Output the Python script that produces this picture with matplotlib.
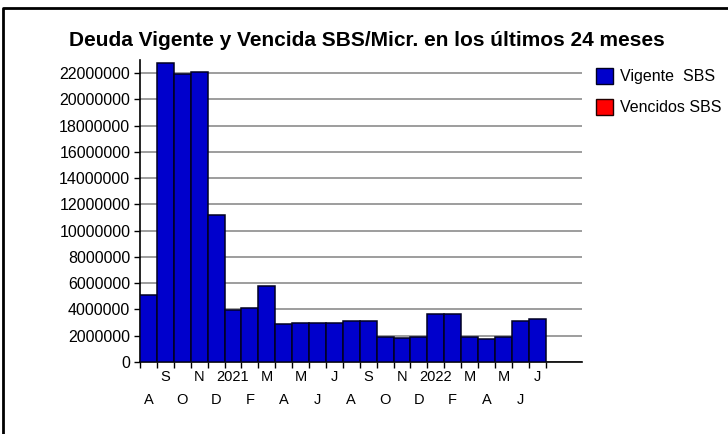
import matplotlib
matplotlib.use('Agg')
import matplotlib.pyplot as plt
from matplotlib.patches import Rectangle
from matplotlib.lines import Line2D
import numpy as np

# Aug 2020 .. Jul 2022
months = ["A", "S", "O", "N", "D", "2021", "F", "M", "A", "M", "J", "J",
          "A", "S", "O", "N", "D", "2022", "F", "M", "A", "M", "J", "J"]
vigente = [5100000, 22750000, 21930000, 22080000, 11190000, 3960000,
           4110000, 5790000, 2890000, 2990000, 3000000, 3000000,
           3140000, 3140000, 1880000, 1850000, 1880000, 3630000,
           3630000, 1880000, 1730000, 1880000, 3140000, 3270000]
vencidos = [0] * 24
yticks = list(range(0, 22000001, 2000000))

plt.rcParams['font.family'] = ['Liberation Sans', 'DejaVu Sans']

fig = plt.figure(figsize=(7.28, 4.34), dpi=100)
ax = fig.add_axes([140/728, 1-362/434, 442/728, 302/434])

x = np.arange(len(vigente))
ax.bar(x, vigente, width=1.0, color='#0000CC', edgecolor='#000022',
       linewidth=1.1, zorder=3)
ax.bar(x, vencidos, bottom=vigente, width=1.0, color='#FF0000',
       linewidth=0, zorder=3)

ax.set_xlim(-0.5, 25.65)
ax.set_ylim(0, 23000000)
ax.set_yticks(yticks)
ax.set_yticklabels([str(v) for v in yticks], fontsize=11.5)
ax.yaxis.grid(True, color='#8c8c8c', linewidth=1.2, zorder=0)
ax.tick_params(axis='y', length=4, width=1, pad=3)

# month labels in two staggered rows
ax.set_xticks(x[1::2])
ax.set_xticklabels(months[1::2], fontsize=10.5)
ax.tick_params(axis='x', length=0, pad=6)
ax.set_xticks(np.arange(-0.5, 24, 1), minor=True)
ax.tick_params(axis='x', which='minor', length=4, width=1)

sec = ax.secondary_xaxis('bottom')
sec.set_xticks(x[0::2])
sec.set_xticklabels(months[0::2], fontsize=10.5)
sec.tick_params(axis='x', length=0, pad=22)
sec.spines['bottom'].set_visible(False)

for s in ['top', 'right']:
    ax.spines[s].set_visible(False)
ax.spines['left'].set_linewidth(1.2)
ax.spines['bottom'].set_linewidth(1.2)

fig.text(367/728, 1-40/434, "Deuda Vigente y Vencida SBS/Micr. en los últimos 24 meses",
         ha='center', va='center', fontsize=15, fontweight='bold')

# legend
fig.patches.append(Rectangle((596/728, 1-84/434), 17/728, 16/434, transform=fig.transFigure,
                             facecolor='#0000CC', edgecolor='#000022', linewidth=1))
fig.patches.append(Rectangle((596/728, 1-115/434), 17/728, 16/434, transform=fig.transFigure,
                             facecolor='#FF0000', edgecolor='#220000', linewidth=1))
fig.text(620/728, 1-76/434, "Vigente  SBS", ha='left', va='center', fontsize=11.5)
fig.text(620/728, 1-107/434, "Vencidos SBS", ha='left', va='center', fontsize=11.5)

# outer frame
fig.lines.append(Line2D([3/728, 3/728, 1], [0, 1-8/434, 1-8/434], transform=fig.transFigure,
                        color='black', linewidth=2))

fig.savefig("out.png", dpi=100)
